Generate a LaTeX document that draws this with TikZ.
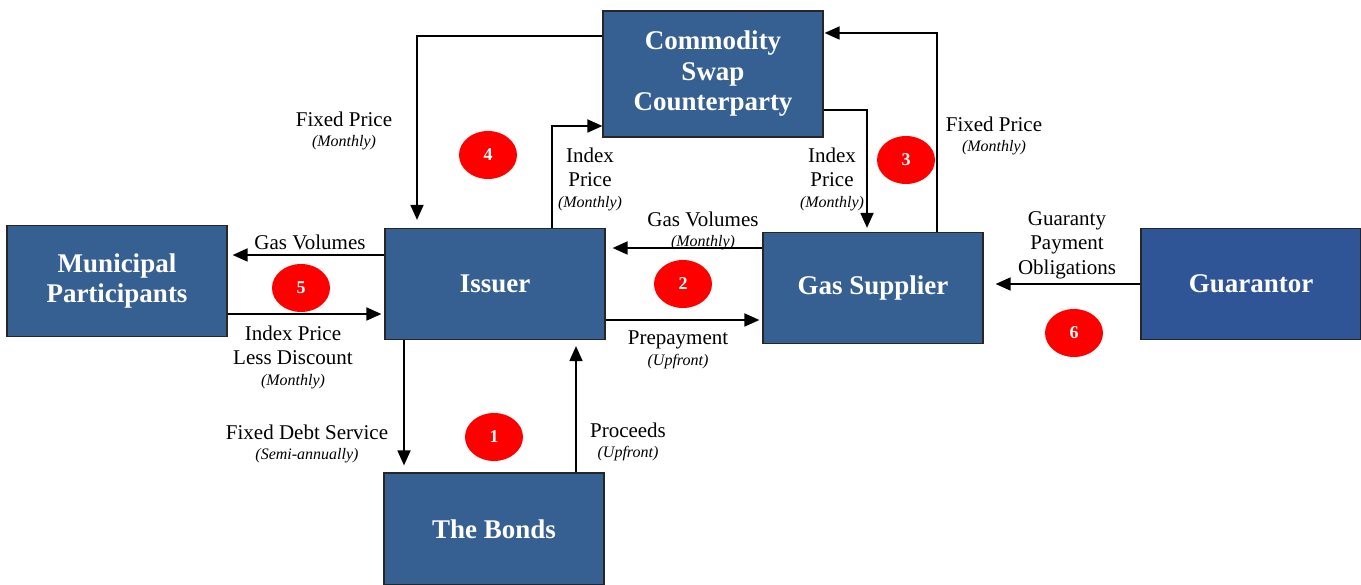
\documentclass[tikz,border=0pt]{standalone}
\usepackage{fontspec}
\setmainfont{Liberation Serif}
\usetikzlibrary{arrows.meta,shapes.geometric}
\definecolor{boxblue}{HTML}{376092}
\definecolor{guarblue}{HTML}{2F5597}
\definecolor{numred}{HTML}{FF0000}
\newcommand\freqnote[1]{{\fontsize{16}{18}\selectfont\itshape(#1)}}

\begin{document}
\begin{tikzpicture}[x=1pt,y=-1pt,
  party/.style={draw=black!85,line width=1.2pt,fill=boxblue,text=white,
    font=\fontsize{27}{30.5}\selectfont\bfseries,align=center,
    minimum width=220pt,minimum height=111pt,inner sep=0pt},
  flow/.style={line width=1.8pt,-{Triangle[length=15pt,width=13pt]}},
  lbl/.style={font=\fontsize{21}{24.5}\selectfont,align=center,inner sep=0pt},
  num/.style={ellipse,fill=numred,text=white,font=\fontsize{18}{20}\selectfont\bfseries,
    minimum width=58pt,minimum height=48pt,inner sep=0pt}]
\useasboundingbox (0,0) rectangle (1361,585);

\node[party,minimum height=126pt] (CSC) at (713,74)  {Commodity\\Swap\\Counterparty};
\node[party]                      (MP)  at (117,281) {Municipal\\Participants};
\node[party]                      (I)   at (495,284) {Issuer};
\node[party]                      (GS)  at (873,288) {Gas Supplier};
\node[party,fill=guarblue]        (G)   at (1251,284) {Guarantor};
\node[party,minimum height=112pt] (B)   at (494,529) {The Bonds};

\node[num] (n1) at (494,437) {1};
\node[num] (n2) at (683,284) {2};
\node[num] (n3) at (906,160) {3};
\node[num] (n4) at (488,155) {4};
\node[num] (n5) at (301,288) {5};
\node[num] (n6) at (1074,333) {6};

\node[lbl] (lFPa) at (344,131)  {Fixed Price\\[-4pt]\freqnote{Monthly}};
\node[lbl] (lIPa) at (590,179)  {Index\\Price\\[-4pt]\freqnote{Monthly}};
\node[lbl] (lIPb) at (832,179)  {Index\\Price\\[-4pt]\freqnote{Monthly}};
\node[lbl] (lFPb) at (994,136)  {Fixed Price\\[-4pt]\freqnote{Monthly}};
\node[lbl] (lGVa) at (703,231)  {Gas Volumes\\[-4pt]\freqnote{Monthly}};
\node[lbl] (lGVb) at (310,242)  {Gas Volumes};
\node[lbl] (lIPD) at (293,357)  {Index Price\\Less Discount\\[-4pt]\freqnote{Monthly}};
\node[lbl] (lPre) at (678,350)  {Prepayment\\[-4pt]\freqnote{Upfront}};
\node[lbl] (lFDS) at (307,444)  {Fixed Debt Service\\[-4pt]\freqnote{Semi-annually}};
\node[lbl] (lPro) at (628,442)  {Proceeds\\[-4pt]\freqnote{Upfront}};
\node[lbl] (lGPO) at (1067,245) {Guaranty\\Payment\\Obligations};

\draw[flow,shorten >=8pt] ([yshift=38pt]CSC.west) -| ([xshift=-78pt]I.north);
\draw[flow] ([xshift=57pt]I.north) |- ([yshift=-52pt]CSC.west);
\draw[flow,shorten >=4pt] ([yshift=-36pt]CSC.east) -| ([xshift=-6pt]GS.north);
\draw[flow,shorten >=1pt] ([xshift=64pt]GS.north) |- ([yshift=41pt]CSC.east);
\draw[flow,shorten >=7pt] ([yshift=40pt]GS.west) -- ([yshift=36pt]I.east);
\draw[flow,shorten >=3pt] ([yshift=-36pt]I.east) -- ([yshift=-32pt]GS.west);
\draw[flow,shorten >=5pt] ([yshift=29pt]I.west) -- ([yshift=26pt]MP.east);
\draw[flow,shorten >=3pt] ([yshift=-33pt]MP.east) -- ([yshift=-30pt]I.west);
\draw[flow,shorten >=7pt] ([xshift=-91pt]I.south) -- ([xshift=-90pt]B.north);
\draw[flow,shorten >=6pt] ([xshift=82pt]B.north) -- ([xshift=81pt]I.south);
\draw[flow,shorten >=12pt] (G.west) -- ([yshift=4pt]GS.east);
\end{tikzpicture}
\end{document}
